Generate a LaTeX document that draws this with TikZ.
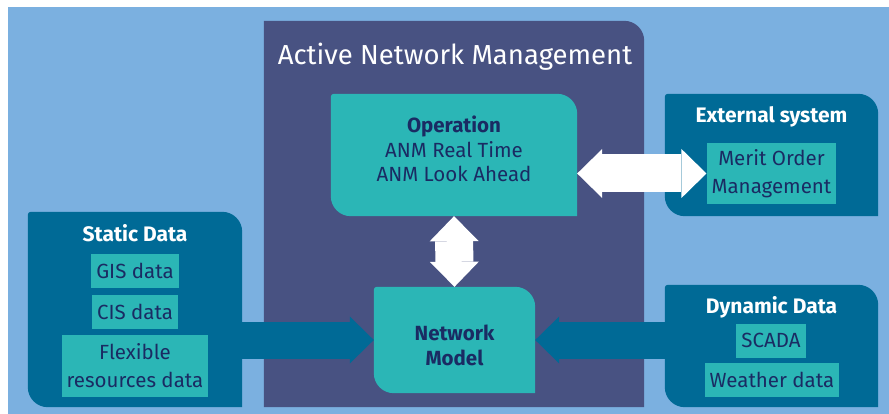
\documentclass[tikz,border=0pt]{standalone}
\usepackage{fontspec}
\setmainfont{Fira Sans}
\usetikzlibrary{arrows.meta,backgrounds,calc}
\definecolor{sky}{HTML}{7BB0E0}
\definecolor{anmpurple}{HTML}{485282}
\definecolor{aqua}{HTML}{2BB6B6}
\definecolor{petrol}{HTML}{006A96}
\definecolor{navy}{HTML}{1A2B63}
% box with two big rounded corners (top right, bottom left)
\newcommand\leafbox[2]{%
  \fill[#2] ($(#1.south west)!.5!(#1.south east)$)
    [rounded corners=20pt] -- (#1.south west)
    [rounded corners=3pt] -- (#1.north west)
    [rounded corners=20pt] -- (#1.north east)
    [sharp corners] -- (#1.south east) -- cycle;}

\begin{document}
\begin{tikzpicture}[
x=1pt, y=-1pt,
every node/.style={text=navy, font=\fontsize{20.5}{24.5}\selectfont},
shell/.style={inner sep=0pt},
heading/.style={anchor=base, text=white, font=\bfseries\fontsize{21}{24}\selectfont},
item/.style={
  fill=aqua,
  inner xsep=5pt,
  inner ysep=0pt,
  minimum height=34pt,
  align=center,
  font=\fontsize{20.5}{28}\selectfont
  },
linkarrow/.style={draw=white, line width=38pt,
  {Triangle[width=49pt,length=25pt,line width=0pt]}-{Triangle[width=49pt,length=25pt,line width=0pt]}},
feedarrow/.style={draw=petrol, line width=37pt,
  -{Triangle[width=47pt,length=24pt,line width=0pt]}}
]
\useasboundingbox (0,0) rectangle (889,414);

% Active Network Management
\node[shell, minimum width=380pt, minimum height=386pt] (anm) at (454,214) {};
\node[heading, font=\fontsize{27.5}{30}\selectfont] (anmtitle) at (455,65) {Active Network Management};
\node[shell, minimum width=246pt, minimum height=122pt] (op) at (454,155) {};
\node[align=center] (optext) at (454,149) {\textbf{Operation}\\ANM Real Time\\ANM Look Ahead};
\node[shell, minimum width=161pt, minimum height=106pt, align=center,
  font=\bfseries\fontsize{20.5}{25}\selectfont] (model) at (454.5,340) {\rule{0pt}{26pt}Network\\Model};

% Static Data
\node[shell, minimum width=214pt, minimum height=195pt] (static) at (135,309.5) {};
\node[heading] (statictitle) at (135,241) {Static Data};
\node[item, minimum width=86pt] (gis) at (135,271) {GIS data};
\node[item, minimum width=86pt] (cis) at (135,311.5) {CIS data};
\node[item, minimum height=62pt] (flex) at (135,366) {Flexible\\resources data};

% External system
\node[shell, minimum width=213pt, minimum height=122pt] (ext) at (771.5,155) {};
\node[heading] (exttitle) at (771.5,123) {External system};
\node[item, minimum height=61pt] (merit) at (771.5,173.5) {Merit Order\\Management};

% Dynamic Data
\node[shell, minimum width=213pt, minimum height=122pt] (dyn) at (771.5,346) {};
\node[heading] (dyntitle) at (771.5,313) {Dynamic Data};
\node[item] (scada) at (771,340.5) {SCADA};
\node[item] (weather) at (772,380) {Weather data};

\begin{scope}[on background layer]
  \fill[sky] (8,7) rectangle (889,414);
  \fill[anmpurple] (anm.south west) -- (anm.north west)
    [rounded corners=20pt] -- (anm.north east) [sharp corners] -- (anm.south east) -- cycle;
  \leafbox{op}{aqua}
  \leafbox{model}{aqua}
  \leafbox{static}{petrol}
  \leafbox{ext}{petrol}
  \leafbox{dyn}{petrol}
\end{scope}

\path[linkarrow] (op.south) -- (model.north);
\path[linkarrow] (op.east |- merit.west) -- (merit.west);
\path[feedarrow] (static.east |- model.west) -- (model.west);
\path[feedarrow] (dyn.west |- model.east) -- (model.east);
\end{tikzpicture}
\end{document}
